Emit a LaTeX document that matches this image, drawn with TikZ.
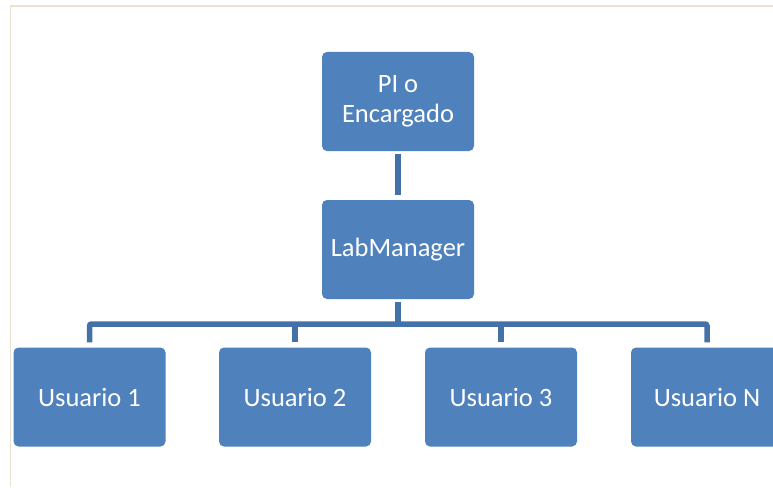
\documentclass[tikz,border=0pt]{standalone}
\usepackage{fontspec}
\setmainfont{Carlito}
\definecolor{boxfill}{HTML}{4F81BD}
\definecolor{connc}{HTML}{4472A8}
\definecolor{framec}{HTML}{E8E2CF}
\begin{document}
\begin{tikzpicture}[x=1pt,y=-1pt,
  orgbox/.style={draw=none,fill=boxfill,rounded corners=5pt,minimum width=152pt,minimum height=99pt,inner sep=0pt,align=center,text=white,font=\fontsize{26.5}{29.5}\selectfont},
  conn/.style={draw=connc,line width=5.5pt},
  framel/.style={draw=framec,line width=1.5pt}]
\useasboundingbox (0,0) rectangle (773,487);
\draw[framel] (10.5,487) -- (10.5,6) -- (773,6);
\node[orgbox] (top) at (398,101.5) {PI o\\Encargado};
\node[orgbox] (lab) at (398,249.5) {LabManager};
\node[orgbox] (u1) at (89.5,397) {Usuario 1};
\node[orgbox] (u2) at (295,397) {Usuario 2};
\node[orgbox] (u3) at (501,397) {Usuario 3};
\node[orgbox] (uN) at (707,397) {Usuario N};
\coordinate (bar) at (398,324);
\draw[conn] ([yshift=-3pt]top.south) -- ([yshift=5pt]lab.north);
\draw[conn] ([yshift=-3pt]lab.south) -- (bar);
\draw[conn,rounded corners=2pt] ([yshift=5pt]u1.north) -- (u1.north |- bar) -- (uN.north |- bar) -- ([yshift=5pt]uN.north);
\draw[conn] (u2.north |- bar) -- ([yshift=5pt]u2.north);
\draw[conn] (u3.north |- bar) -- ([yshift=5pt]u3.north);
\end{tikzpicture}
\end{document}
